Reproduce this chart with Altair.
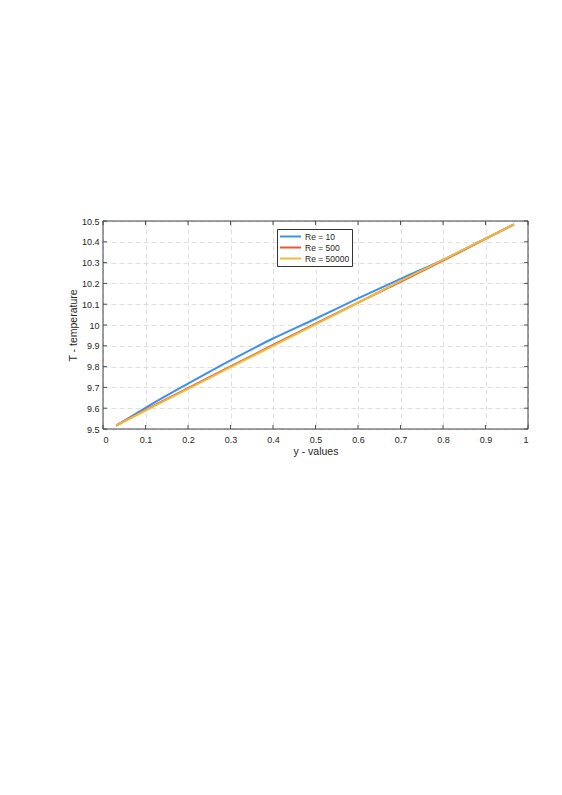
import altair as alt
import pandas as pd

# ---- data ----
x_vals = [0.031, 0.1, 0.2, 0.3, 0.4, 0.5, 0.6, 0.7, 0.8, 0.9, 0.967]
re10 = [9.516, 9.602, 9.718, 9.830, 9.935, 10.030, 10.128, 10.222, 10.313, 10.415, 10.484]
re500 = [9.516, 9.592, 9.697, 9.801, 9.904, 10.006, 10.108, 10.208, 10.309, 10.414, 10.484]
re50000 = [9.516, 9.589, 9.693, 9.797, 9.900, 10.003, 10.107, 10.212, 10.313, 10.415, 10.484]
series_names = ["Re = 10", "Re = 500", "Re = 50000"]
series_colors = ["#3d8ef5", "#e65a35", "#f0b93a"]
x_ticks = [0, 0.1, 0.2, 0.3, 0.4, 0.5, 0.6, 0.7, 0.8, 0.9, 1]
y_ticks = [9.5, 9.6, 9.7, 9.8, 9.9, 10, 10.1, 10.2, 10.3, 10.4, 10.5]
x_title = "y - values"
y_title = "T - temperature"

rows = []
for i, (name, vals) in enumerate(zip(series_names, [re10, re500, re50000])):
    for x, y in zip(x_vals, vals):
        rows.append({"x": x, "T": y, "series": name, "order": i})
df = pd.DataFrame(rows)
xt = pd.DataFrame({"x": x_ticks})
yt = pd.DataFrame({"T": y_ticks})
one = pd.DataFrame({"k": [0]})

W, H = 425, 208
FONT = "Liberation Sans"
TICK = "#262626"
xscale = alt.Scale(domain=[0, 1], nice=False, zero=False)
yscale = alt.Scale(domain=[9.5, 10.5], nice=False, zero=False)
x_axis = alt.Axis(values=x_ticks, format="~g", grid=True, ticks=False,
                  domain=False, labelPadding=6, titlePadding=2, labelOverlap=False)
y_axis = alt.Axis(values=y_ticks, format="~g", grid=True, ticks=False,
                  domain=False, labelPadding=4, titlePadding=3, labelOverlap=False)


def X():
    return alt.X("x:Q", scale=xscale, title=x_title, axis=x_axis)


def Y():
    return alt.Y("T:Q", scale=yscale, title=y_title, axis=y_axis)


lines = alt.Chart(df).mark_line(strokeWidth=2, interpolate="monotone").encode(
    x=X(), y=Y(),
    color=alt.Color("series:N",
                    scale=alt.Scale(domain=series_names, range=series_colors),
                    legend=alt.Legend(title=None, orient="none", legendX=174, legendY=8,
                                      symbolType="stroke", symbolSize=441,
                                      symbolStrokeWidth=2, clipHeight=11,
                                      rowPadding=0, padding=2, labelOffset=3,
                                      labelFontSize=8.5, labelFont=FONT,
                                      labelColor=TICK, fillColor="white",
                                      strokeColor="#333333", cornerRadius=0)),
    order=alt.Order("order:Q"),
    detail="series:N",
)

tb = alt.Chart(xt).mark_rule(color=TICK, strokeWidth=0.8).encode(
    x=X(), y=alt.value(H), y2=alt.value(H - 4))
tt = alt.Chart(xt).mark_rule(color=TICK, strokeWidth=0.8).encode(
    x=X(), y=alt.value(0), y2=alt.value(4))
tl = alt.Chart(yt).mark_rule(color=TICK, strokeWidth=0.8).encode(
    y=Y(), x=alt.value(0), x2=alt.value(4))
tr = alt.Chart(yt).mark_rule(color=TICK, strokeWidth=0.8).encode(
    y=Y(), x=alt.value(W), x2=alt.value(W - 4))
frame = alt.Chart(one).mark_rect(fillOpacity=0, stroke="#404040", strokeWidth=1).encode(
    x=alt.value(0), x2=alt.value(W), y=alt.value(0), y2=alt.value(H))

chart = alt.layer(lines, tb, tt, tl, tr, frame).properties(
    width=W, height=H,
    autosize=alt.AutoSizeParams(type="none"),
    padding={"left": 95, "top": 213, "right": 15, "bottom": 60},
    background="white",
).configure_view(
    stroke=None
).configure_axis(
    gridColor="#e0e0e0", gridDash=[5, 3], gridWidth=1,
    labelFont=FONT, labelFontSize=9, labelColor=TICK,
    titleFont=FONT, titleFontSize=10.5, titleColor=TICK, titleFontWeight="normal",
)

chart.save("out.html", embed_options={"renderer": "svg", "actions": False})
